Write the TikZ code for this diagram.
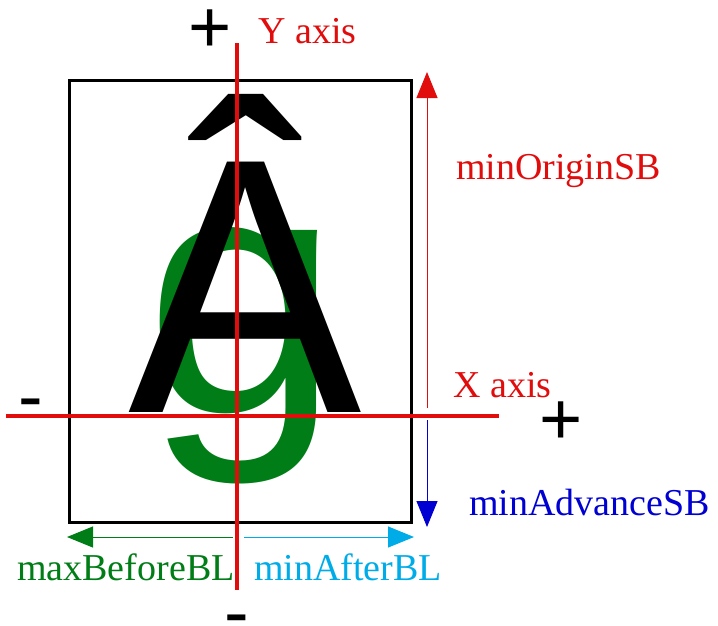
\documentclass[tikz,border=0pt]{standalone}
\usepackage{fontspec}
\setmainfont{Liberation Serif}
\newfontfamily\glyphfont{Liberation Sans}
\usetikzlibrary{arrows.meta}
\definecolor{axred}{RGB}{225,12,12}
\definecolor{arblue}{RGB}{0,0,210}
\definecolor{argreen}{RGB}{0,125,22}
\definecolor{arcyan}{RGB}{0,172,232}
\tikzset{
  axisline/.style={draw=axred,line width=4.8pt},
  measure/.style={line width=1pt,-{Triangle[length=26pt,width=21pt]}},
  lbl/.style={anchor=base west,inner sep=0pt,font=\fontsize{38}{40}\selectfont},
  sign/.style={anchor=base,inner sep=0pt,font=\glyphfont\fontsize{74}{74}\selectfont},
  plussign/.style={sign,text height=0.59em,text depth=-0.11em},
  minussign/.style={sign,text height=0.31em,text depth=-0.21em},
  bigglyph/.style={anchor=base west,inner sep=0pt,font=\glyphfont\fontsize{350}{350}\selectfont},
}
\begin{document}
\begin{tikzpicture}[x=1pt,y=-1pt]
\useasboundingbox (0,0) rectangle (718,625);
% glyphs
\node[bigglyph,text=argreen] (g) at (145,412) {\scalebox{1}[0.985]{g}};
\node[bigglyph,text=black] (A) at (128,412) {\scalebox{1}[1.04]{Â}};
% box
\node[draw=black,line width=2.5pt,minimum width=342pt,minimum height=442pt,inner sep=0pt,anchor=north west] (box) at (68,79) {};
% axes
\coordinate (ytop) at (237,43);
\coordinate (ybot) at (237,590);
\coordinate (xleft) at (6,416);
\coordinate (xright) at (499,416);
\draw[axisline] (ytop) -- (ybot);
\draw[axisline] (xleft) -- (xright);
% measure arrows
\coordinate (o1) at (427,408);
\coordinate (o2) at (427,72);
\coordinate (a1) at (427,420);
\coordinate (a2) at (427,527);
\coordinate (b1) at (233,537);
\coordinate (b2) at (67,537);
\coordinate (c1) at (244,537);
\coordinate (c2) at (414,537);
\draw[measure,draw=axred,fill=axred] (o1) -- (o2);
\draw[measure,draw=arblue,fill=arblue] (a1) -- (a2);
\draw[measure,draw=argreen,fill=argreen] (b1) -- (b2);
\draw[measure,draw=arcyan,fill=arcyan] (c1) -- (c2);
% signs
\node[plussign] (ypl) at (210,52) {+};
\node[plussign] (xpl) at (561.5,444) {+};
\node[minussign] (xmi) at (31,421.5) {-};
\node[minussign] (ymi) at (237,637) {-};
% labels
\node[lbl,text=axred] (ylab) at (258,43) {Y axis};
\node[lbl,text=axred] (xlab) at (453,397) {X axis};
\node[lbl,text=axred] (orig) at (456,179) {minOriginSB};
\node[lbl,text=arblue] (adv) at (469,515) {minAdvanceSB};
\node[lbl,text=argreen] (bef) at (17,580) {maxBeforeBL};
\node[lbl,text=arcyan] (aft) at (254,580) {minAfterBL};
\end{tikzpicture}
\end{document}
